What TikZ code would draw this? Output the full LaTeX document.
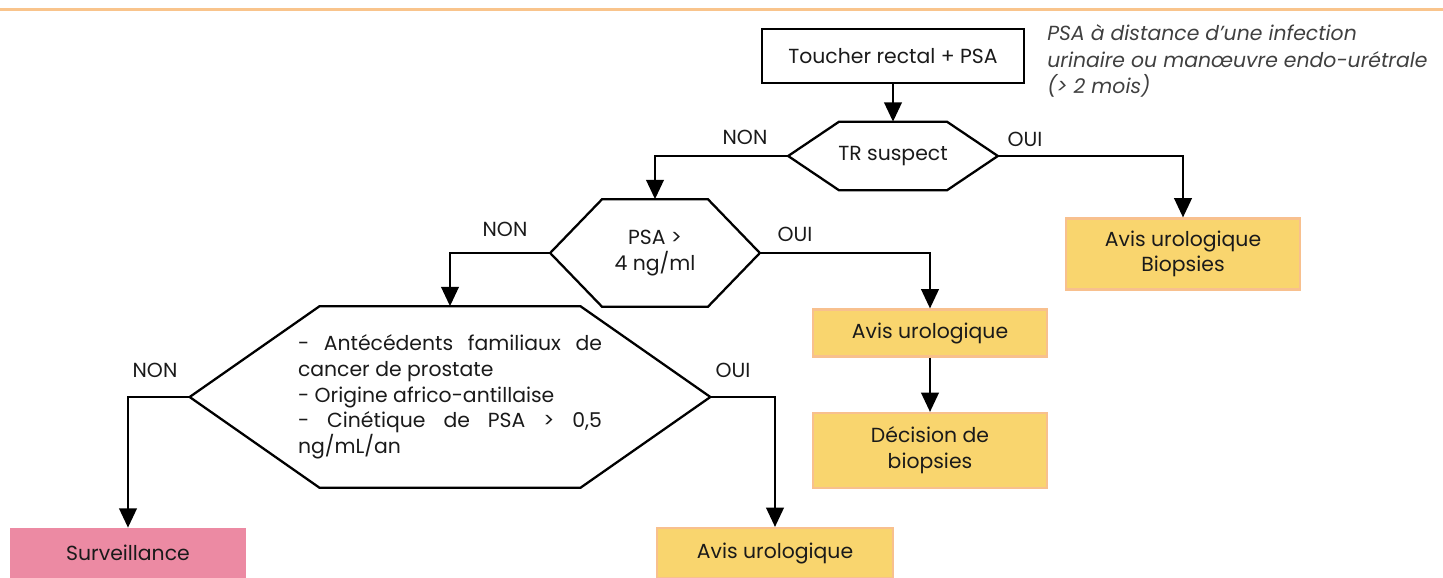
\documentclass[tikz,border=0pt]{standalone}
\usepackage{fontspec}
\setmainfont{Poppins}
\usetikzlibrary{positioning,arrows.meta}
\definecolor{jaune}{HTML}{F9D56E}
\definecolor{orangeclair}{HTML}{F8C08E}
\definecolor{rose}{HTML}{EC8AA3}
\definecolor{filet}{HTML}{F9C48C}
\definecolor{gris}{HTML}{404040}
\definecolor{noir}{HTML}{1A1A1A}

\begin{document}
\begin{tikzpicture}[every node/.style={text=noir, font=\fontsize{11.6}{14.6}\selectfont},
                        depart/.style={draw, line width=1.3pt, minimum width=5.24cm, minimum height=1.08cm},
                        hexa/.style={inner sep=0pt},
                        avis/.style={fill=jaune, draw=orangeclair, line width=1.2pt, minimum width=4.68cm, align=center},
                        choix/.style={inner sep=0pt},
                        fleche/.style={-{Triangle[width=10pt,length=11pt]}, line width=1.3pt}]
    \useasboundingbox (0,0) rectangle (28.86,11.54);
    \draw[filet, line width=1.2pt] (0,11.35) -- (28.86,11.35);

    \node[depart] (toucher) at (17.86,10.42) {Toucher rectal + PSA};
    \node[anchor=west, align=left, inner sep=0pt, text=gris, font=\itshape\fontsize{11.6}{15}\selectfont] (remarque) at (20.94,10.32)
        {PSA à distance d’une infection\\urinaire ou manœuvre endo-urétrale\\(> 2 mois)};

    \node[hexa, minimum width=4.18cm, minimum height=1.36cm] (trsuspect) at (17.86,8.42) {TR suspect};
    \node[hexa, minimum width=4.18cm, minimum height=2.14cm, align=center] (psa) at (13.10,6.48) {PSA >\\4 ng/ml};
    \node[hexa, minimum width=10.4cm, minimum height=3.62cm, text width=6.08cm, align=justify] (facteurs) at (9.00,3.60)
        {- Antécédents familiaux de\linebreak cancer de prostate\\- Origine africo-antillaise\\- Cinétique de PSA > 0,5\linebreak ng/mL/an};
    % contours des hexagones
    \foreach \n/\c in {trsuspect/1.02cm, psa/1.04cm, facteurs/2.6cm}
        \draw[line width=1.3pt] (\n.west) -- ([xshift=\c]\n.north west) -- ([xshift=-\c]\n.north east)
            -- (\n.east) -- ([xshift=-\c]\n.south east) -- ([xshift=\c]\n.south west) -- cycle;

    \node[avis, minimum height=1.42cm] (biopsies) at (23.66,6.46) {Avis urologique\\Biopsies};
    \node[avis, minimum height=0.94cm] (avis1) at (18.60,4.88) {Avis urologique};
    \node[avis, minimum height=1.5cm] (decision) at (18.60,2.53) {Décision de\\biopsies};
    \node[fill=rose, minimum width=4.72cm, minimum height=1.0cm] (surveillance) at (2.56,0.48) {Surveillance};
    \node[avis, minimum height=1.0cm, minimum width=4.72cm] (avis2) at (15.50,0.48) {Avis urologique};

    % reponses
    \node[choix] (non1) at (14.90,8.80) {NON};
    \node[choix] (oui1) at (20.50,8.76) {OUI};
    \node[choix] (non2) at (10.10,6.96) {NON};
    \node[choix] (oui2) at (15.90,6.86) {OUI};
    \node[choix] (non3) at (3.10,4.14) {NON};
    \node[choix] (oui3) at (14.66,4.14) {OUI};

    \draw[fleche] (toucher) -- (trsuspect);
    \draw[fleche] (trsuspect.west) -| (psa.north);
    \draw[fleche] (trsuspect.east) -| (biopsies.north);
    \draw[fleche] (psa.west) -| (facteurs.north);
    \draw[fleche] (psa.east) -| (avis1.north);
    \draw[fleche] (avis1) -- (decision);
    \draw[fleche] (facteurs.west) -| (surveillance.north);
    \draw[fleche] (facteurs.east) -| (avis2.north);
\end{tikzpicture}
\end{document}
